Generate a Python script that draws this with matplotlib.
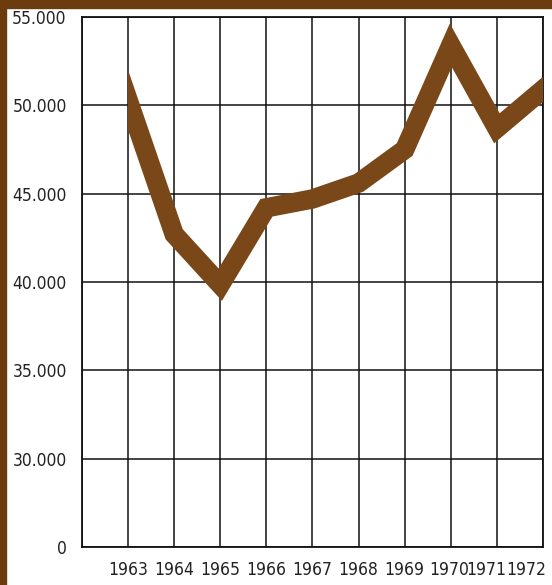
import matplotlib
matplotlib.use("Agg")
import matplotlib.pyplot as plt
from matplotlib.patches import Rectangle
from matplotlib.transforms import ScaledTranslation

years = [1963, 1964, 1965, 1966, 1967, 1968, 1969, 1970, 1971, 1972]
values = [50300, 42700, 39850, 44200, 44700, 45600, 47500, 53400, 48700, 50900]
ytick_values = [25000, 30000, 35000, 40000, 45000, 50000, 55000]
ytick_labels = ["0", "30.000", "35.000", "40.000", "45.000", "50.000", "55.000"]
xtick_labels = ["1963", "1964", "1965", "1966", "1967", "1968", "1969", "1970", "1971", "1972"]

line_color = "#7a4818"
border_color = "#6a3c0e"

fig = plt.figure(figsize=(5.52, 5.85), dpi=100)
fig.patch.set_facecolor("white")
ax = fig.add_axes([82/552, 1-547/585, (543-82)/552, (547-17)/585])

ax.set_xlim(1962, 1972)
ax.set_ylim(25000, 55000)

for x in range(1962, 1973):
    ax.axvline(x, color="#111111", lw=1.1, zorder=1)
for y in ytick_values:
    ax.axhline(y, color="#111111", lw=1.1, zorder=1)

# extend the ends along the first/last segment so the thick stroke is cut
# vertically at the first and last year (as in the printed chart)
ext = 0.5
x_ext = [years[0] - ext] + years + [years[-1] + ext]
y_ext = ([values[0] - ext * (values[1] - values[0])] + values +
         [values[-1] + ext * (values[-1] - values[-2])])
ln, = ax.plot(x_ext, y_ext, color=line_color, lw=14, solid_joinstyle="miter",
              solid_capstyle="butt", zorder=3)
clip = Rectangle((years[0], 25000), years[-1] - years[0], 30000,
                 transform=ax.transData, visible=False)
ax.add_patch(clip)
ln.set_clip_path(clip)

ax.set_yticks(ytick_values)
ax.set_yticklabels(ytick_labels)
ax.set_xticks(years)
ax.set_xticklabels(xtick_labels)
ax.tick_params(length=0)
for lab in ax.get_yticklabels() + ax.get_xticklabels():
    lab.set_fontfamily("DejaVu Sans")
    lab.set_fontstretch("condensed")
    lab.set_fontsize(12.5)
    lab.set_color("#222222")
ax.tick_params(axis="y", pad=11)
ax.tick_params(axis="x", pad=10)

# the last labels are squeezed leftwards in the original
xl = ax.get_xticklabels()
for lab, dx in zip(xl[-3:], [-2, -11, -17]):
    lab.set_transform(lab.get_transform() + ScaledTranslation(dx/100, 0, fig.dpi_scale_trans))

for s in ax.spines.values():
    s.set_color("#111111")
    s.set_linewidth(1.3)

fig.patches.append(Rectangle((0, 1-8/585), 1, 8/585, transform=fig.transFigure,
                             color=border_color, zorder=0))
fig.patches.append(Rectangle((0, 0), 6/552, 1, transform=fig.transFigure,
                             color=border_color, zorder=0))

fig.savefig("out.png", dpi=100)
